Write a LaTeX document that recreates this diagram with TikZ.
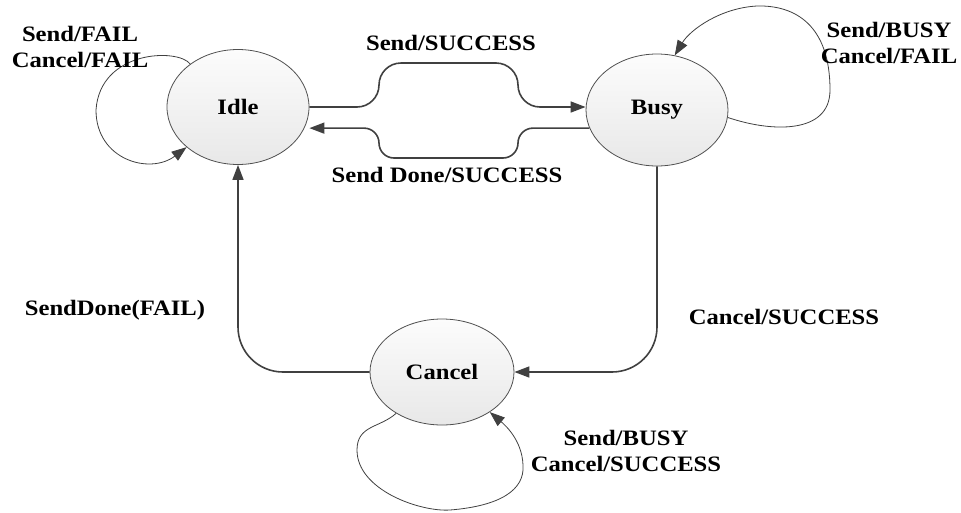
\documentclass[tikz,border=0pt]{standalone}
\usepackage{fontspec}
\setmainfont{Liberation Serif}[FakeStretch=1.12]
\usetikzlibrary{arrows.meta,shapes.geometric}
\definecolor{linegray}{RGB}{64,64,64}
\definecolor{edgegray}{RGB}{80,80,80}
\definecolor{filltop}{RGB}{252,252,252}
\definecolor{fillbot}{RGB}{232,232,232}
\tikzset{
  state/.style={ellipse, draw=edgegray, line width=0.8pt, top color=filltop, bottom color=fillbot,
    font=\fontsize{22}{25.5}\selectfont\bfseries, inner sep=0pt},
  lbl/.style={align=center, font=\fontsize{22}{25.5}\selectfont\bfseries, inner sep=0pt},
  conn/.style={draw=linegray, line width=1.6pt, -{Triangle[length=15pt,width=11pt]}},
  selfloop/.style={draw=linegray, line width=0.8pt, -{Triangle[length=15pt,width=11pt]}}
}
\begin{document}
\begin{tikzpicture}[x=1pt,y=-1pt]
\useasboundingbox (0,0) rectangle (961,512);
\node[state, minimum width=142pt, minimum height=115pt] (Idle) at (238,107) {Idle};
\node[state, minimum width=142pt, minimum height=112pt] (Busy) at (657,110) {Busy};
\node[state, minimum width=144pt, minimum height=106pt] (Cancel) at (442,372) {Cancel};

% Idle -> Busy
\draw[conn, rounded corners=22pt] (Idle.east) -- (379,0 |- Idle.east) -- (379,63) -- (518,63) -- (518,0 |- Idle.east) -- (Busy.west |- Idle.east);
% Busy -> Idle
\draw[conn, rounded corners=15pt] (Busy.195) -- (518,0 |- Busy.195) -- (518,158) -- (379,158) -- (379,0 |- Busy.195) -- (Idle.east |- Busy.195);
% Busy -> Cancel
\draw[conn, rounded corners=45pt] (Busy.south) -- (Busy.south |- Cancel.east) -- (Cancel.east);
% Cancel -> Idle
\draw[conn, rounded corners=45pt] (Cancel.west) -- (Idle.south |- Cancel.west) -- (Idle.south);

% self loops
\draw[selfloop] (Idle.138) .. controls (178,48) and (100,50) .. (96,110) .. controls (96,160) and (150,175) .. (Idle.218);
\draw[selfloop] (Busy.354) .. controls (770,132) and (830,135) .. (830,90) .. controls (830,25) and (795,5) .. (757,6) .. controls (720,8) and (690,30) .. (Busy.72);
\draw[selfloop] (Cancel.222) .. controls (380,428) and (357,425) .. (357,450) .. controls (357,490) and (420,512) .. (450,510) .. controls (500,506) and (525,490) .. (523,465) .. controls (522,440) and (505,425) .. (Cancel.320);

% labels
\node[lbl] (lIdle) at (80,47) {Send/FAIL\\Cancel/FAIL};
\node[lbl] (lBusy) at (889,43) {Send/BUSY\\Cancel/FAIL};
\node[lbl] (lCancel) at (626,451) {Send/BUSY\\Cancel/SUCCESS};
\node[lbl] (lIB) at (451,43) {Send/SUCCESS};
\node[lbl] (lBI) at (447,175) {Send Done/SUCCESS};
\node[lbl] (lCI) at (115,310) {SendDone(FAIL)};
\node[lbl] (lBC) at (784,317) {Cancel/SUCCESS};
\end{tikzpicture}
\end{document}
